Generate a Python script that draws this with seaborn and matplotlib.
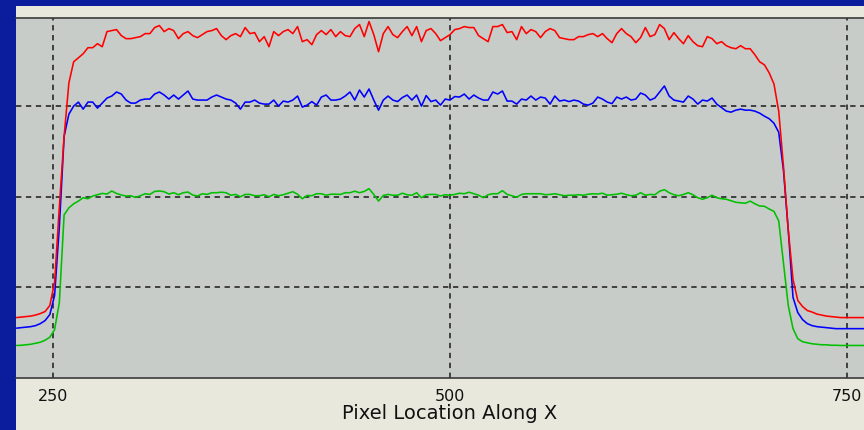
import numpy as np
import pandas as pd
import matplotlib
matplotlib.use("Agg")
import matplotlib.pyplot as plt
import seaborn as sns
from matplotlib.patches import Rectangle

# Sample positions along the scan line (pixels)
pixel = np.arange(227, 762, 3)

# Intensity profile of each colour channel along X
red = [
    60, 60.5, 61, 61.5, 62.5, 64, 66, 72, 95, 170,
    240, 293, 314, 318, 322, 328, 328, 332, 329, 344,
    345, 346, 340, 337, 337, 338, 339, 342, 342, 348,
    350, 344, 347, 345, 337, 342, 344, 340, 338, 341,
    344, 345, 347, 340, 336, 340, 342, 339, 348, 342,
    343, 334, 339, 329, 344, 340, 344, 346, 342, 349,
    334, 336, 331, 341, 345, 341, 346, 339, 344, 340,
    339, 347, 351, 339, 354, 341, 324, 342, 349, 341,
    338, 344, 349, 340, 349, 334, 345, 347, 342, 335,
    338, 341, 346, 347, 349, 348, 348, 340, 337, 334,
    349, 349, 351, 343, 344, 336, 349, 342, 346, 344,
    338, 344, 347, 345, 338, 337, 336, 336, 339, 339,
    341, 342, 339, 342, 337, 333, 342, 347, 342, 339,
    333, 338, 348, 339, 341, 351, 347, 336, 343, 337,
    332, 340, 334, 330, 329, 339, 337, 332, 334, 330,
    328, 327, 330, 327, 327, 321, 314, 311, 303, 292,
    265, 210, 147, 98, 77, 71, 67, 65.5, 63.5, 62.5,
    61.5, 61, 60.5, 60, 60, 60, 60, 60, 60,
]
blue = [
    49.5, 50, 50.5, 51, 52, 54, 57, 63, 82, 150,
    240, 262, 270, 274, 267, 274, 274, 268, 273, 278,
    280, 284, 282, 276, 273, 273, 276, 277, 277, 282,
    284, 281, 277, 281, 277, 281, 285, 277, 276, 276,
    276, 279, 281, 279, 277, 276, 273, 267, 274, 274,
    276, 273, 272, 272, 276, 270, 275, 274, 276, 280,
    269, 271, 274.5, 271, 279, 281, 276, 276, 277, 280,
    284, 276, 286, 279, 287, 276, 266, 276, 280, 276,
    274.5, 278.5, 281, 276, 281, 270, 280.5, 274.5, 276, 271,
    277, 276, 279.5, 279, 282, 277, 281, 278, 276, 276,
    284, 282, 285, 275, 275, 272, 277, 276, 280, 276,
    279, 278, 272, 280, 275, 276, 274.5, 276, 275, 272,
    271, 273, 279, 277, 274, 272.5, 279, 277, 279, 276,
    277, 283, 281, 276, 278, 284, 290, 280, 276, 275,
    274, 280, 277, 272, 276, 275, 278, 272, 268.5, 265,
    264, 266, 267, 266, 266, 265, 263, 260, 257.5, 253,
    244, 206, 147, 80, 65, 58, 54, 52, 51, 50.5,
    50, 49.5, 49, 49, 49, 49, 49, 49, 49,
]
green = [
    32.3, 32.5, 33, 33.5, 34.5, 35.5, 37.5, 40.5, 48, 75,
    162, 169, 173, 175.7, 179, 178, 180.7, 182, 183.3, 182.7,
    185.7, 183.3, 181.7, 180.7, 181, 179.3, 181, 183, 182.3, 185.3,
    185.7, 185, 182.7, 184, 182, 184, 184.7, 181.7, 180.7, 183,
    182.3, 184, 184, 184.5, 184, 181.5, 182.3, 180, 182.3, 182.3,
    181, 181, 182, 180, 182.3, 181, 182, 183.5, 185, 182.5,
    178, 181.3, 181, 183, 183, 181.5, 182.5, 182.5, 182.3, 184,
    184, 185.5, 184, 185.3, 188, 182.3, 175.7, 181.3, 182.3, 181.5,
    181.5, 183.5, 182, 181.5, 184, 179, 182, 182.3, 182.3, 180.7,
    182, 181.5, 182.3, 183.5, 183, 184.5, 183, 181.5, 179, 182,
    183, 183, 186, 182.3, 181, 179.5, 182.3, 183, 183, 183,
    183, 182, 182.3, 183, 182, 181, 181.5, 181.5, 182, 181.5,
    182.5, 183, 182.7, 183.5, 181.5, 182, 182.5, 183.5, 182, 181,
    181.5, 184, 181.5, 182.3, 182, 185.5, 187, 184, 182, 181,
    182.3, 184, 182, 179, 177.5, 179, 181.5, 179, 178, 177.5,
    176, 174.5, 174, 173.5, 175.7, 173, 170.8, 170.5, 167.8, 165.5,
    156, 114, 72, 49, 39, 36, 35, 34, 33.5, 33,
    33, 32.5, 32.5, 32.3, 32.3, 32.3, 32.3, 32.3, 32.3,
]

channels = ["Green", "Blue", "Red"]
palette = {"Red": "#ff0000", "Blue": "#0000ff", "Green": "#00c000"}
major_ticks = [250, 500, 750]
minor_ticks = [300, 350, 400, 450, 550, 600, 650, 700]
level_lines = [90, 180, 270]

profile = pd.DataFrame({
    "pixel": np.tile(pixel, 3),
    "intensity": np.concatenate([green, blue, red]),
    "channel": np.repeat(channels, len(pixel)),
})

sns.set_style("white")
plt.rcParams["font.family"] = ["DejaVu Sans"]

W, H = 864, 431
fig = plt.figure(figsize=(W / 100, H / 100), dpi=100)
fig.patch.set_facecolor("#0b1c9c")
# light window panel behind the plot
fig.add_artist(Rectangle((16 / W, 0), 1 - 16 / W, (H - 7) / H,
                         transform=fig.transFigure, facecolor="#e8e8dc",
                         edgecolor="none", zorder=0))

ax = fig.add_axes([16 / W, 1 - 379 / H, 1 - 16 / W, (379 - 18.5) / H])
ax.set_facecolor("#c8ccc8")

sns.lineplot(data=profile, x="pixel", y="intensity", hue="channel",
             hue_order=channels, palette=palette, estimator=None, sort=False,
             linewidth=1.15, legend=False, ax=ax)

ax.set_xlim(226.7, 760.7)
ax.set_ylim(0, 358)

ax.set_xticks(major_ticks)
ax.set_xticks(minor_ticks, minor=True)
ax.set_yticks(level_lines)
ax.set_yticklabels([])
ax.tick_params(axis="y", length=0)
ax.tick_params(axis="x", which="major", direction="out", length=4.5,
               width=1.2, color="#222222", labelsize=11.5, pad=2.5,
               labelcolor="#111111")
ax.tick_params(axis="x", which="minor", direction="out", length=2.2,
               width=1.2, color="#222222")

ax.set_axisbelow(True)
ax.grid(True, which="major", axis="both", color="#1a1a1a",
        linestyle=(0, (3.5, 3.0)), linewidth=1.1)

for side in ("left", "right"):
    ax.spines[side].set_visible(False)
for side in ("top", "bottom"):
    ax.spines[side].set_color("#3a3a3a")
    ax.spines[side].set_linewidth(1.2)

# axis title centred under the 500 mark
label_x = (500 - 226.7) / (760.7 - 226.7)
ax.set_xlabel("Pixel Location Along X", fontsize=14, color="#111111",
              labelpad=0.5, x=label_x)
ax.set_ylabel("")

fig.savefig("out.png", dpi=100, facecolor=fig.get_facecolor())
